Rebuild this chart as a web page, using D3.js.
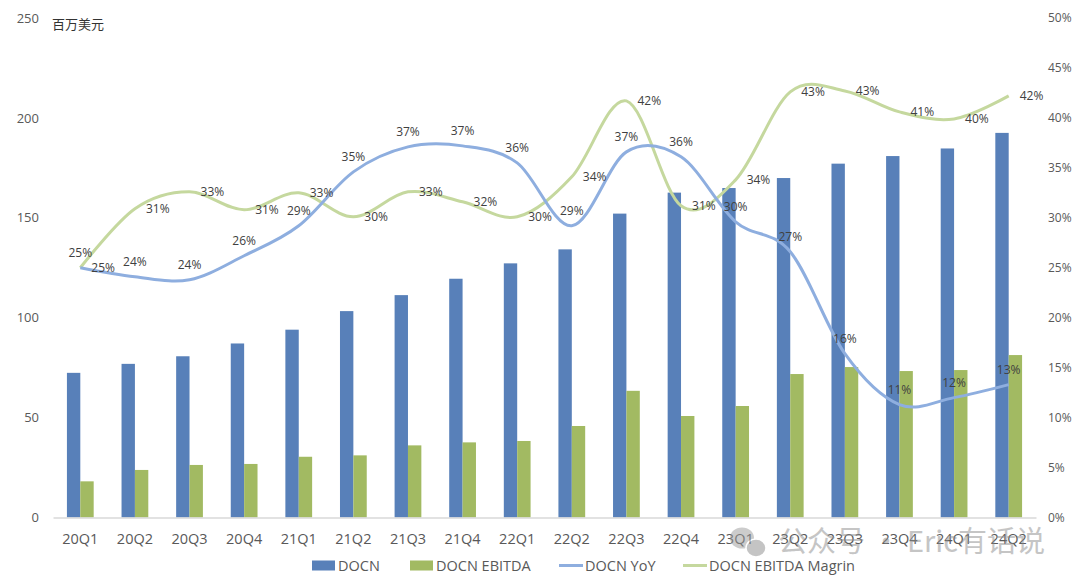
<!DOCTYPE html>
<html>
<head>
<meta charset="utf-8">
<script src="https://cdn.jsdelivr.net/npm/d3@7"></script>
<style>
  body { margin: 0; background: #fff; }
  text { font-family: "Open Sans", "Noto Sans", sans-serif; }
</style>
</head>
<body>
<div class="chart"></div>
<script>
// quarters
var quarters = ["20Q1","20Q2","20Q3","20Q4","21Q1","21Q2","21Q3","21Q4","22Q1","22Q2","22Q3","22Q4","23Q1","23Q2","23Q3","23Q4","24Q1","24Q2"];
// revenue, million USD
var revenue = [72.4, 76.9, 80.7, 87.1, 94.0, 103.3, 111.3, 119.5, 127.2, 134.2, 152.1, 162.6, 164.9, 169.9, 177.1, 180.9, 184.7, 192.5];
// adjusted EBITDA, million USD
var ebitda = [18.1, 23.8, 26.3, 26.8, 30.4, 31.1, 36.1, 37.6, 38.3, 45.8, 63.4, 50.8, 55.8, 71.8, 75.3, 73.3, 73.8, 81.3];
// revenue growth yoy, %
var yoy = [25.0, 24.1, 23.8, 26.2, 29.2, 34.6, 37.1, 37.2, 35.5, 29.2, 36.6, 36.1, 29.6, 26.6, 16.4, 11.3, 12.0, 13.3];
// EBITDA margin, %
var margin = [25.0, 30.9, 32.6, 30.8, 32.5, 30.1, 32.6, 31.6, 30.1, 34.1, 41.7, 31.2, 33.8, 42.6, 42.7, 40.6, 39.9, 42.2];

var leftTicks = [0, 50, 100, 150, 200, 250];
var rightTicks = [0, 5, 10, 15, 20, 25, 30, 35, 40, 45, 50];

function init() {
  var w = 1080, h = 585;
  var left = 53, right = 1036, top = 18, bottom = 517.5;

  var blue = "#5880B9", green = "#A2BA62";
  var lineBlue = "#8EAEDF", lineGreen = "#C5D89E";

  var svg = d3.select(".chart").append("svg")
    .attr("width", w)
    .attr("height", h);

  var xScale = d3.scaleBand().domain(quarters).range([left, right]).padding(0);
  var bw = xScale.bandwidth();
  var x1 = d3.scaleBand().domain(["DOCN", "EBITDA"]).range([bw * 0.255, bw * 0.745]);
  var yScale = d3.scaleLinear().domain([0, 250]).range([bottom, top]);
  var yRight = d3.scaleLinear().domain([0, 50]).range([bottom, top]);

  function cx(d, i) { return xScale(quarters[i]) + bw / 2; }

  // left axis labels
  var yAxis = d3.axisLeft(yScale).tickValues(leftTicks).tickSize(0).tickPadding(0);
  var gl = svg.append("g").attr("transform", "translate(39,0)").call(yAxis);
  gl.select(".domain").remove();
  gl.selectAll("text").attr("fill", "#595959").style("font-size", "13px");

  // right axis labels
  var yAxisR = d3.axisRight(yRight).tickValues(rightTicks).tickSize(0).tickPadding(0)
    .tickFormat(function(d) { return d + "%"; });
  var gr = svg.append("g").attr("transform", "translate(1048,0)").call(yAxisR);
  gr.select(".domain").remove();
  gr.selectAll("text").attr("fill", "#595959").style("font-size", "12px");

  // unit
  svg.append("text")
    .attr("x", 52).attr("y", 28.5)
    .style("font-family", "'Noto Sans CJK SC', sans-serif")
    .style("font-size", "13px")
    .attr("fill", "#333")
    .text("百万美元");

  // bars
  var bars = svg.append("g");
  bars.selectAll(".rev").data(revenue).enter().append("rect")
    .attr("x", function(d, i) { return xScale(quarters[i]) + x1("DOCN"); })
    .attr("width", x1.bandwidth())
    .attr("y", function(d) { return yScale(d); })
    .attr("height", function(d) { return bottom - yScale(d); })
    .attr("fill", blue);
  bars.selectAll(".ebit").data(ebitda).enter().append("rect")
    .attr("x", function(d, i) { return xScale(quarters[i]) + x1("EBITDA"); })
    .attr("width", x1.bandwidth())
    .attr("y", function(d) { return yScale(d); })
    .attr("height", function(d) { return bottom - yScale(d); })
    .attr("fill", green);

  // x axis
  var xAxis = d3.axisBottom(xScale).tickSize(0).tickPadding(16);
  var gx = svg.append("g").attr("transform", "translate(0," + bottom + ")").call(xAxis);
  gx.select(".domain").attr("stroke", "#D9D9D9").attr("stroke-width", 1.5);
  gx.selectAll("text").attr("fill", "#595959").style("font-size", "14.5px");

  // lines
  var line = d3.line()
    .x(cx)
    .y(function(d) { return yRight(d); })
    .curve(d3.curveCatmullRom.alpha(0));

  svg.append("path").datum(margin)
    .attr("fill", "none").attr("stroke", lineGreen).attr("stroke-width", 3)
    .attr("d", line);
  svg.append("path").datum(yoy)
    .attr("fill", "none").attr("stroke", lineBlue).attr("stroke-width", 3)
    .attr("d", line);

  // data labels: margin to the right, yoy above (first points swapped)
  function labels(data, pos) {
    function place(i) { return (i === 0) ? (pos === "right" ? "top" : "right") : pos; }
    svg.append("g").selectAll("text").data(data).enter().append("text")
      .attr("x", function(d, i) { return place(i) === "right" ? cx(d, i) + 11 : cx(d, i); })
      .attr("y", function(d, i) { return place(i) === "right" ? yRight(d) : yRight(d) - 15; })
      .attr("text-anchor", function(d, i) { return place(i) === "right" ? "start" : "middle"; })
      .attr("dy", "0.35em")
      .attr("fill", "#404040")
      .style("font-size", "12px")
      .text(function(d) { return Math.round(d) + "%"; });
  }
  labels(margin, "right");
  labels(yoy, "top");

  // legend
  var legend = [
    { name: "DOCN", type: "rect", color: blue, x: 312 },
    { name: "DOCN EBITDA", type: "rect", color: green, x: 410 },
    { name: "DOCN YoY", type: "line", color: lineBlue, x: 559 },
    { name: "DOCN EBITDA Magrin", type: "line", color: lineGreen, x: 683 }
  ];
  var ly = 565.5;
  var lg = svg.append("g").selectAll("g").data(legend).enter().append("g");
  lg.filter(function(d) { return d.type === "rect"; }).append("rect")
    .attr("x", function(d) { return d.x; }).attr("y", ly - 5)
    .attr("width", 23).attr("height", 10)
    .attr("fill", function(d) { return d.color; });
  lg.filter(function(d) { return d.type === "line"; }).append("line")
    .attr("x1", function(d) { return d.x; }).attr("x2", function(d) { return d.x + 24; })
    .attr("y1", ly).attr("y2", ly)
    .attr("stroke", function(d) { return d.color; }).attr("stroke-width", 3);
  lg.append("text")
    .attr("x", function(d) { return d.x + 26; }).attr("y", ly)
    .attr("dy", "0.35em")
    .attr("fill", "#595959")
    .style("font-size", "14.5px")
    .text(function(d) { return d.name; });

  // watermark
  var wm = svg.append("g").attr("opacity", 0.5);
  wm.append("ellipse").attr("cx", 742).attr("cy", 538).attr("rx", 12).attr("ry", 10.5).attr("fill", "#9a9a9a");
  wm.append("ellipse").attr("cx", 756).attr("cy", 548).attr("rx", 10).attr("ry", 9).attr("fill", "#8a8a8a").attr("stroke", "#fff").attr("stroke-width", 1.5);
  wm.append("text")
    .attr("x", 778).attr("y", 542).attr("dy", "0.35em")
    .style("font-family", "'Noto Sans CJK SC', sans-serif")
    .style("font-size", "29px")
    .attr("fill", "#8c8c8c")
    .text("公众号 · Eric有话说");
}
window.onload = init;
</script>
</body>
</html>
